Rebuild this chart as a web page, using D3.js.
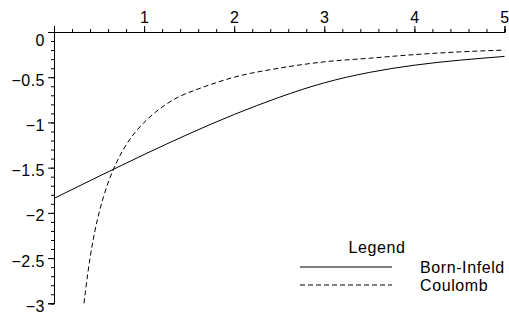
<!DOCTYPE html>
<html>
<head>
<meta charset="utf-8">
<script src="https://cdn.jsdelivr.net/npm/d3@7"></script>
<style>
    body { margin: 0; background: #fff; }
    svg text { font-family: "Liberation Sans", Arial, sans-serif; fill: #000; }
</style>
</head>
<body>
<svg id="chart" width="509" height="314"></svg>
<script>
    'use strict';

    // values
    var bornInfeldR = [0, 0.5, 1, 1.5, 2, 2.5, 3, 3.5, 4, 4.5, 5];
    var bornInfeldV = [-1.84, -1.595, -1.355, -1.125, -0.912, -0.722, -0.562, -0.447, -0.367, -0.312, -0.27];

    var coulombR = [0.333, 0.35, 0.4, 0.45, 0.5, 0.55, 0.6, 0.7, 0.8, 0.9, 1, 1.2, 1.4, 1.6, 1.8, 2, 2.5, 3, 3.5, 4, 4.5, 5];
    var coulombV = [-3, -2.86, -2.5, -2.22, -2, -1.82, -1.67, -1.43, -1.25, -1.11, -1, -0.83, -0.71, -0.63, -0.56, -0.5, -0.4, -0.33, -0.29, -0.25, -0.22, -0.2];

    var xTicks = [1, 2, 3, 4, 5];
    var yTicks = [-3, -2.5, -2, -1.5, -1, -0.5, 0];
    var legendTitle = 'Legend';
    var seriesNames = ['Born-Infeld', 'Coulomb'];

    var svg = d3.select('#chart');

    var x = d3.scaleLinear().domain([0, 5]).range([54, 504.5]);
    var y = d3.scaleLinear().domain([-3, 0]).range([303.3, 32]);

    function styleAxis(g) {
        g.select('.domain').attr('stroke', '#000').attr('stroke-width', 1);
        g.selectAll('.tick line').attr('stroke', '#000');
        g.selectAll('text')
            .attr('font-size', 16)
            .attr('letter-spacing', '0.5px')
            .attr('font-family', '"Liberation Sans", Arial, sans-serif');
    }

    // minor ticks first, majors on top
    svg.append('g')
        .attr('transform', 'translate(0,' + y(0) + ')')
        .call(d3.axisTop(x).tickValues(d3.range(0, 5.001, 0.2)).tickSize(3).tickFormat(''))
        .call(styleAxis);

    svg.append('g')
        .attr('transform', 'translate(' + x(0) + ',0)')
        .call(d3.axisLeft(y).tickValues(d3.range(-3, 0.001, 0.1)).tickSize(3).tickFormat(''))
        .call(styleAxis);

    svg.append('g')
        .attr('transform', 'translate(0,' + y(0) + ')')
        .call(d3.axisTop(x).tickValues(xTicks).tickSize(6).tickPadding(3).tickFormat(d3.format('')))
        .call(styleAxis);

    var yAxis = svg.append('g')
        .attr('transform', 'translate(' + x(0) + ',0)')
        .call(d3.axisLeft(y).tickValues(yTicks).tickSize(6).tickPadding(3).tickFormat(d3.format('')))
        .call(styleAxis);

    // Maple drops the labels a bit below their ticks
    yAxis.selectAll('.tick text')
        .attr('dy', function(d) { return d === 0 ? '0.85em' : '0.5em'; });

    function lineFor(curve) {
        return d3.line()
            .x(function(d) { return x(d[0]); })
            .y(function(d) { return y(d[1]); })
            .curve(curve);
    }

    svg.append('path')
        .datum(d3.zip(bornInfeldR, bornInfeldV))
        .attr('fill', 'none')
        .attr('stroke', '#000')
        .attr('stroke-width', 1)
        .attr('d', lineFor(d3.curveNatural));

    svg.append('path')
        .datum(d3.zip(coulombR, coulombV))
        .attr('fill', 'none')
        .attr('stroke', '#000')
        .attr('stroke-width', 1)
        .attr('stroke-dasharray', '5,3')
        .attr('d', lineFor(d3.curveMonotoneX));

    /* * * * * * * * LEGEND * * * * * * * */
    var legend = svg.append('g').attr('class', 'legend');

    legend.append('text')
        .attr('x', 377)
        .attr('y', 247)
        .attr('dy', '0.35em')
        .attr('text-anchor', 'middle')
        .attr('font-size', 16)
        .attr('letter-spacing', '0.6px')
        .text(legendTitle);

    var dashes = [null, '5,3'];
    seriesNames.forEach(function(name, i) {
        var ly = 267 + i * 18;
        legend.append('line')
            .attr('x1', 300)
            .attr('x2', 392)
            .attr('y1', ly)
            .attr('y2', ly)
            .attr('stroke', '#000')
            .attr('stroke-dasharray', dashes[i]);
        legend.append('text')
            .attr('x', 420)
            .attr('y', ly)
            .attr('dy', '0.35em')
            .attr('font-size', 16)
            .attr('letter-spacing', '0.6px')
            .text(name);
    });
</script>
</body>
</html>
